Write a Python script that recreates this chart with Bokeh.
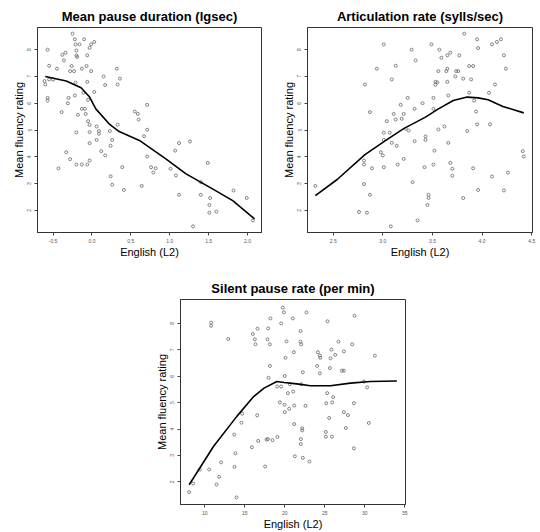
from bokeh.plotting import figure
from bokeh.layouts import row, column
from bokeh.models import Spacer, FixedTicker
from bokeh.embed import file_html
from bokeh.resources import INLINE

FONT = "Liberation Sans"

# ---------------- data ----------------
y_ticks = [2, 3, 4, 5, 6, 7, 8]

# Panel 1: Mean pause duration (lgsec)
p1_x = [-0.25, -0.22, -0.10, 0.03, -0.16, -0.21, -0.01, -0.03, -0.57, -0.20, -0.20, -0.34,
        -0.38, -0.36, -0.19, -0.06, -0.55, -0.45, -0.26, -0.13, -0.07, -0.28, -0.23, -0.01,
        0.32, 0.15, 0.36, -0.61, -0.60, -0.55, -0.50, -0.21, -0.06, 0.17, 0.33, 0.03,
        -0.11, -0.57, -0.57, -0.30, -0.31, -0.22, -0.05, -0.39, -0.13, -0.09, -0.18, -0.08,
        0.55, 0.59, 0.71, 0.60, -0.05, -0.03, 0.06, 0.09, 0.09, 0.33, -0.03, -0.20,
        0.23, 0.71, 0.67, 0.06, 0.26, -0.03, 0.24, 0.12, 0.17, -0.33, -0.28, -0.20,
        -0.13, -0.06, -0.03, -0.43, 0.39, 0.71, 0.76, 0.79, 0.82, 1.01, 1.07, 1.12,
        1.26, 1.08, 0.24, 0.26, 0.41, 0.64, 1.12, 1.40, 1.40, 1.49, 1.52, 1.51,
        1.51, 1.60, 1.82, 1.99, 2.07, 1.30]
p1_y = [8.60, 8.39, 8.39, 8.29, 8.20, 8.20, 8.20, 8.07, 8.00, 7.97, 7.79, 7.89,
        7.81, 7.60, 7.73, 7.79, 7.40, 7.29, 7.39, 7.29, 7.39, 7.20, 7.20, 7.20,
        7.29, 7.00, 6.92, 6.83, 6.70, 6.89, 6.88, 6.77, 6.80, 6.68, 6.70, 6.42,
        6.39, 6.20, 6.10, 6.20, 6.00, 6.29, 6.13, 5.67, 5.79, 5.79, 5.57, 5.60,
        5.69, 5.60, 5.94, 5.39, 5.33, 5.19, 5.13, 4.96, 4.86, 5.20, 4.92, 4.91,
        4.96, 5.01, 4.77, 4.63, 4.63, 4.51, 4.41, 4.21, 4.05, 4.17, 3.91, 3.71,
        3.71, 3.71, 3.86, 3.57, 3.61, 4.01, 3.61, 3.41, 3.57, 3.55, 4.23, 4.51,
        4.57, 3.30, 3.27, 2.96, 2.76, 2.91, 2.58, 3.05, 2.58, 3.77, 2.46, 2.20,
        1.91, 1.95, 2.74, 2.46, 1.62, 1.40]
p1_fit_x = [-0.60, -0.33, -0.14, -0.03, 0.05, 0.22, 0.35, 0.61, 0.95, 1.21, 1.55, 1.81, 2.09]
p1_fit_y = [7.00, 6.83, 6.58, 6.23, 5.79, 5.23, 4.94, 4.61, 3.92, 3.36, 2.80, 2.36, 1.68]
p1_xticks = [-0.5, 0.0, 0.5, 1.0, 1.5, 2.0]
p1_xlabels = ["-0.5", "0.0", "0.5", "1.0", "1.5", "2.0"]

# Panel 2: Articulation rate (sylls/sec)
p2_x = [2.32, 2.82, 3.01, 3.29, 3.49, 3.82, 3.95, 3.96, 4.10, 4.15, 4.19, 4.22,
        4.24, 4.13, 3.33, 3.57, 3.68, 3.65, 3.59, 3.77, 2.94, 3.13, 3.09, 3.56,
        3.65, 3.64, 3.74, 3.76, 3.73, 3.81, 3.87, 3.91, 3.89, 3.53, 3.53, 3.55,
        3.65, 3.66, 3.87, 4.07, 2.87, 3.25, 3.40, 3.51, 3.18, 3.32, 3.51, 3.11,
        3.21, 3.04, 3.13, 3.19, 3.23, 3.26, 3.01, 3.07, 3.01, 3.09, 3.14, 3.32,
        3.43, 3.43, 3.56, 3.62, 3.85, 3.94, 3.95, 4.08, 3.66, 3.92, 2.98, 3.00,
        2.81, 2.81, 2.89, 3.01, 3.15, 3.21, 3.52, 3.42, 3.51, 3.68, 3.70, 3.70,
        3.91, 4.10, 4.26, 4.41, 4.42, 2.81, 2.87, 3.30, 3.46, 3.46, 3.45, 3.96,
        3.81, 4.22, 2.76, 2.84, 3.35, 3.08]
p2_y = [2.91, 6.70, 8.20, 8.00, 8.20, 8.60, 8.39, 8.06, 8.20, 8.29, 8.39, 7.79,
        7.29, 6.70, 7.60, 8.00, 7.89, 7.79, 7.70, 7.79, 7.29, 7.40, 6.89, 7.20,
        7.29, 7.20, 7.20, 7.20, 7.00, 6.92, 7.39, 7.39, 6.89, 6.80, 6.69, 6.78,
        6.80, 6.29, 6.39, 6.39, 5.67, 6.20, 6.00, 6.20, 5.94, 5.79, 5.79, 5.60,
        5.60, 5.33, 5.39, 5.42, 5.05, 4.98, 4.90, 4.90, 4.63, 4.52, 4.41, 4.58,
        4.76, 4.63, 5.02, 5.13, 4.96, 5.69, 5.21, 5.21, 4.52, 6.10, 4.17, 4.05,
        3.86, 3.71, 3.57, 3.61, 3.71, 3.92, 4.23, 3.61, 3.71, 3.77, 3.55, 3.29,
        3.57, 3.26, 3.41, 4.21, 4.01, 2.98, 2.58, 3.05, 2.58, 2.46, 2.20, 2.76,
        2.46, 2.74, 1.94, 1.91, 1.62, 1.40]
p2_fit_x = [2.32, 2.54, 2.82, 3.03, 3.21, 3.43, 3.56, 3.71, 3.85, 3.96, 4.06, 4.21, 4.42]
p2_fit_y = [2.55, 3.15, 4.08, 4.61, 5.05, 5.48, 5.79, 6.10, 6.23, 6.20, 6.13, 5.88, 5.64]
p2_xticks = [2.5, 3.0, 3.5, 4.0, 4.5]
p2_xlabels = ["2.5", "3.0", "3.5", "4.0", "4.5"]

# Panel 3: Silent pause rate (per min)
p3_x = [8.04, 8.54, 9.38, 10.54, 11.46, 11.79, 12.04, 10.79, 10.79, 12.92, 16.00, 16.58,
        16.25, 16.33, 17.92, 17.83, 18.20, 18.13, 18.13, 17.96, 19.75, 19.88, 19.54, 21.00,
        22.71, 20.21, 20.08, 21.96, 21.96, 22.04, 21.13, 20.00, 22.25, 19.04, 19.54, 20.38,
        21.04, 22.04, 20.63, 19.38, 19.96, 20.00, 20.54, 21.17, 22.58, 16.54, 14.67, 14.58,
        13.67, 16.67, 17.71, 17.88, 18.46, 19.08, 15.88, 13.83, 13.71, 17.54, 13.96, 21.17,
        22.17, 22.17, 22.00, 22.00, 21.25, 22.25, 23.08, 24.04, 24.13, 24.38, 24.42, 24.38,
        25.33, 25.83, 25.71, 26.29, 26.71, 27.38, 28.42, 28.71, 25.63, 27.13, 27.38, 25.29,
        25.17, 26.04, 25.92, 25.54, 27.38, 27.88, 28.63, 29.88, 30.29, 31.25, 30.50, 27.63,
        25.13, 25.13, 25.88, 28.63]
p3_y = [1.61, 1.94, 2.47, 2.47, 1.90, 2.19, 2.74, 8.03, 7.91, 7.41, 7.60, 7.80,
        7.40, 7.21, 7.81, 7.40, 8.19, 7.21, 6.39, 5.94, 8.60, 8.42, 8.00, 8.19,
        8.42, 7.32, 6.70, 7.71, 7.31, 7.21, 6.91, 6.01, 6.15, 5.61, 5.61, 5.36,
        5.42, 5.70, 5.70, 5.01, 4.92, 4.64, 4.77, 4.89, 4.88, 4.52, 4.58, 4.24,
        3.79, 3.55, 3.60, 3.62, 3.58, 3.70, 3.31, 3.08, 2.57, 2.58, 1.41, 4.19,
        4.03, 3.95, 3.62, 3.43, 2.97, 2.91, 2.77, 6.39, 6.91, 6.78, 6.70, 6.11,
        8.08, 7.01, 6.68, 6.81, 7.31, 6.94, 7.21, 8.29, 6.31, 6.21, 6.21, 5.36,
        4.98, 5.21, 5.01, 4.42, 4.64, 4.53, 4.98, 5.80, 5.58, 6.78, 4.23, 4.04,
        3.89, 3.71, 3.71, 3.27]
p3_fit_x = [8.04, 11.1, 14.0, 16.1, 17.4, 19.0, 19.9, 21.5, 23.2, 25.7, 28.2, 30.7, 34.0]
p3_fit_y = [1.89, 3.35, 4.48, 5.23, 5.55, 5.80, 5.76, 5.71, 5.64, 5.64, 5.74, 5.80, 5.82]
p3_xticks = [10, 15, 20, 25, 30, 35]
p3_xlabels = ["10", "15", "20", "25", "30", "35"]

titles = ["Mean pause duration (lgsec)", "Articulation rate (sylls/sec)",
          "Silent pause rate (per min)"]
x_label = "English (L2)"
y_label = "Mean fluency rating"


def make_panel(title, xs, ys, fx, fy, xticks, xlabels, xr, yr, w, h, bl, br, bt, bb):
    p = figure(width=w, height=h, x_range=xr, y_range=yr,
               output_backend="svg", toolbar_location=None,
               min_border_left=bl, min_border_right=br,
               min_border_top=bt, min_border_bottom=bb)
    p.title.text = title
    p.title.align = "center"
    p.title.text_font = FONT
    p.title.text_font_size = "13px"
    p.title.text_font_style = "bold"
    p.title.text_color = "black"
    p.title.standoff = 8
    p.title.offset = 0
    p.grid.visible = False
    p.outline_line_color = "#333333"
    p.outline_line_width = 1
    p.background_fill_color = "white"
    p.border_fill_color = "white"
    for ax in (p.xaxis[0], p.yaxis[0]):
        ax.axis_line_color = "#333333"
        ax.major_tick_line_color = "#444444"
        ax.major_tick_out = 3
        ax.major_tick_in = 0
        ax.minor_tick_line_color = None
        ax.major_label_text_font = FONT
        ax.major_label_text_font_size = "5px"
        ax.major_label_text_color = "#555555"
        ax.major_label_standoff = 3
        ax.axis_label_text_font = FONT
        ax.axis_label_text_font_size = "11px"
        ax.axis_label_text_font_style = "normal"
        ax.axis_label_text_color = "black"
        ax.axis_label_standoff = 0
    p.xaxis[0].ticker = FixedTicker(ticks=xticks)
    p.xaxis[0].major_label_overrides = {t: l for t, l in zip(xticks, xlabels)}
    p.yaxis[0].ticker = FixedTicker(ticks=y_ticks)
    p.yaxis[0].major_label_overrides = {t: str(t) for t in y_ticks}
    p.yaxis[0].major_label_orientation = "vertical"
    p.xaxis[0].axis_label = x_label
    p.yaxis[0].axis_label = y_label
    p.scatter(xs, ys, size=3, marker="circle", fill_color=None,
              line_color="#666666", line_width=0.8)
    p.line(fx, fy, line_color="black", line_width=1.6)
    return p


p1 = make_panel(titles[0], p1_x, p1_y, p1_fit_x, p1_fit_y, p1_xticks, p1_xlabels,
                (-0.70, 2.18), (1.17, 8.83), 270, 260, 37, 9, 27, 28)
p2 = make_panel(titles[1], p2_x, p2_y, p2_fit_x, p2_fit_y, p2_xticks, p2_xlabels,
                (2.241, 4.508), (1.17, 8.83), 270, 260, 37, 8, 27, 28)
p3 = make_panel(titles[2], p3_x, p3_y, p3_fit_x, p3_fit_y, p3_xticks, p3_xlabels,
                (6.96, 35.08), (1.143, 8.906), 263, 272, 29, 9, 39, 27)

layout = column(row(p1, p2), row(Spacer(width=151, height=272), p3))

with open("out.html", "w") as f:
    f.write(file_html(layout, INLINE))
